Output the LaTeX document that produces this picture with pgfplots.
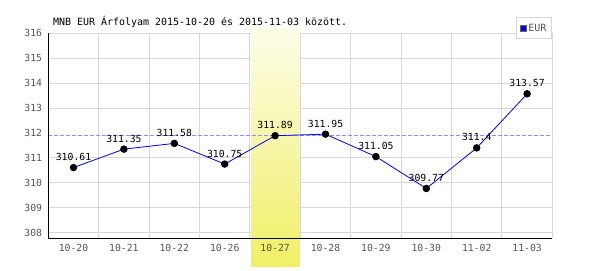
\documentclass[border=0pt]{standalone}
\usepackage{pgfplots}
\pgfplotsset{compat=1.18}
\usepackage{fontspec}
\setmainfont{DejaVu Sans Mono}
\definecolor{gridc}{HTML}{D8D8D8}
\definecolor{tickc}{HTML}{555555}
\definecolor{dashc}{HTML}{8C8CFF}
\definecolor{bandtop}{HTML}{FDFDE8}
\definecolor{bandbot}{HTML}{F0EF64}
\pgfplotsset{layers/mylayers/.define layer set={axis background,axis grid,band,axis ticks,axis lines,axis tick labels,pre main,main,axis descriptions,axis foreground}{
  grid style={/pgfplots/on layer=axis grid},
  tick style={/pgfplots/on layer=axis ticks},
  axis line style={/pgfplots/on layer=axis lines},
  label style={/pgfplots/on layer=axis descriptions},
  legend style={/pgfplots/on layer=axis descriptions},
  title style={/pgfplots/on layer=axis descriptions},
  colorbar style={/pgfplots/on layer=axis descriptions},
  ticklabel style={/pgfplots/on layer=axis tick labels},
  axis background@ style={/pgfplots/on layer=axis background},
  3d box foreground style={/pgfplots/on layer=axis foreground},
}}
\pgfplotstableread{
x y label
0 310.61 310.61
1 311.35 311.35
2 311.58 311.58
3 310.75 310.75
4 311.89 311.89
5 311.95 311.95
6 311.05 311.05
7 309.77 309.77
8 311.4 311.4
9 313.57 313.57
}\eurdata
\begin{document}
\begin{tikzpicture}[x=1bp,y=1bp]
\path (0,0) rectangle (600,270);
\node[anchor=base west, font=\fontsize{10}{12}\selectfont, inner sep=0pt] at (53,245) {MNB EUR Árfolyam 2015-10-20 és 2015-11-03 között.};
\begin{axis}[at={(48.3bp,31.7bp)}, anchor=south west, scale only axis,
  width=504bp, height=205bp,
  set layers=mylayers,
  xmin=-0.5, xmax=9.5, ymin=307.77, ymax=316,
  xtick={0,...,9},
  xticklabels={10-20,10-21,10-22,10-26,10-27,10-28,10-29,10-30,11-02,11-03},
  minor xtick={-0.5,0.5,...,9.5}, xminorgrids=true,
  ytick={308,309,...,316}, ymajorgrids=false,
  extra y ticks={308,309,310,311,313,314,315,316},
  extra y tick labels={},
  extra y tick style={ymajorgrids=true},
  major tick length=0pt, minor tick length=0pt,
  grid style={gridc, line width=1bp}, minor grid style={gridc, line width=1bp},
  axis line style={draw=none},
  tick label style={font=\fontsize{9.8}{12}\selectfont, text=tickc},
  /pgf/number format/assume math mode=true,
  yticklabel style={inner sep=0pt, anchor=east, xshift=-6bp},
  xticklabel style={inner sep=0pt, anchor=north, yshift=-6bp},
  clip=false,
  legend style={at={(1,1.078)}, anchor=north east, draw=gridc, line width=1bp, fill=white,
    nodes={font=\fontsize{10}{12}\selectfont, text=tickc}, inner xsep=3.5bp, inner ysep=4bp},
  legend cell align=left,
]
\addplot[draw=none, top color=bandtop, bottom color=bandbot, on layer=band, forget plot]
  coordinates {(3.52,306.63) (4.49,306.63) (4.49,316.21) (3.52,316.21)} -- cycle;
\addplot[draw=dashc, line width=1bp, dash pattern=on 4bp off 2bp, mark=none, forget plot] coordinates {(-0.5,311.89) (9.5,311.89)};
\draw[black, line width=1bp] (rel axis cs:0,1) -- (rel axis cs:0,0) -- (rel axis cs:1,0);
\addplot[blue, line width=0.8bp, mark=*, mark size=3.3bp,
  mark options={fill=black, draw=black, solid},
  nodes near coords, point meta=explicit symbolic,
  every node near coord/.append style={anchor=base, yshift=7bp, inner sep=0pt,
    font=\fontsize{9.8}{12}\selectfont, text=black},
  forget plot] table[x=x, y=y, meta=label] {\eurdata};
\addlegendimage{legend image code/.code={\fill[blue, draw=black!60, line width=0.5bp] (0bp,-3bp) rectangle (6bp,3bp);}}
\addlegendentry{EUR}
\end{axis}
\end{tikzpicture}
\end{document}
